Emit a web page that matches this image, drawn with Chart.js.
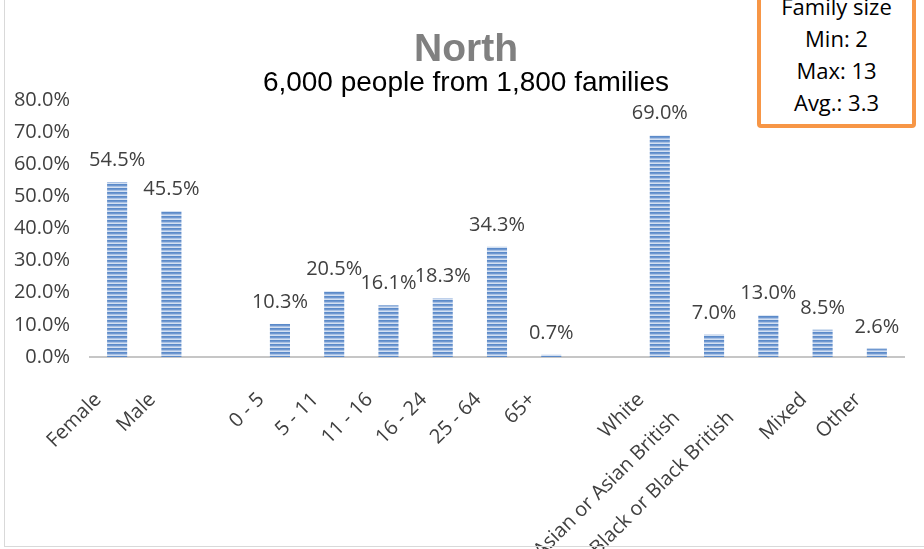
<!DOCTYPE html>
<html>
<head>
<meta charset="utf-8">
<script src="https://cdn.jsdelivr.net/npm/chart.js@4"></script>
<style>
  body { margin: 0; background: #fff; }
  #wrap { position: relative; width: 924px; height: 549px; overflow: hidden; }
  #frame {
    position: absolute; left: 4px; top: -2px; width: 940px; height: 549px;
    box-sizing: border-box; border: 1px solid #d9d9d9; pointer-events: none;
  }
  #note {
    position: absolute; left: 757px; top: -14px; width: 159px; height: 142px;
    box-sizing: border-box; border: 4px solid #f79646; border-radius: 4px;
    background: #fff; text-align: center; font-family: "Open Sans", sans-serif;
    font-size: 22px; line-height: 32px; color: #000;
  }
</style>
</head>
<body>
<div id="wrap">
  <canvas id="mychart" width="924" height="549"></canvas>
  <div id="frame"></div>
  <div id="note">Family size<br>Min: 2<br>Max: 13<br>Avg.: 3.3</div>
</div>
<script>
const categories = [
  "Female", "Male", "",
  "0 - 5", "5 - 11", "11 - 16", "16 - 24", "25 - 64", "65+", "",
  "White", "Asian or Asian British", "Black or Black British", "Mixed", "Other",
];
const shares = [
  54.5, 45.5, null,
  10.3, 20.5, 16.1, 18.3, 34.3, 0.7, null,
  69.0, 7.0, 13.0, 8.5, 2.6,
];
const yTicks = [0, 10, 20, 30, 40, 50, 60, 70, 80];

// horizontal stripe fill like the original
function stripes() {
  const c = document.createElement("canvas");
  c.width = 4;
  c.height = 4;
  const g = c.getContext("2d");
  const rows = ["#5b8ac9", "#6f98d0", "#a9c1e4", "#d3e0f2"];
  rows.forEach((col, i) => {
    g.fillStyle = col;
    g.fillRect(0, i, 4, 1);
  });
  return g.createPattern(c, "repeat");
}

const labelFont = { family: "'Open Sans', sans-serif", size: 20 };

const valueLabels = {
  id: "valueLabels",
  afterDatasetsDraw(chart) {
    const ctx = chart.ctx;
    const meta = chart.getDatasetMeta(0);
    ctx.save();
    ctx.font = "20px 'Open Sans', sans-serif";
    ctx.fillStyle = "#404040";
    ctx.textAlign = "center";
    ctx.textBaseline = "alphabetic";
    meta.data.forEach((bar, i) => {
      const v = shares[i];
      if (v === null) return;
      ctx.fillText(v.toFixed(1) + "%", bar.x, bar.y - 16);
    });
    ctx.restore();
  },
};

const chart = new Chart(document.getElementById("mychart").getContext("2d"), {
  type: "bar",
  data: {
    labels: categories,
    datasets: [
      {
        data: shares,
        backgroundColor: stripes(),
        borderWidth: 0,
        barPercentage: 0.37,
        categoryPercentage: 1,
      },
    ],
  },
  options: {
    responsive: false,
    animation: false,
    layout: { padding: { left: 12, right: 4, top: 0, bottom: 0 } },
    plugins: {
      legend: { display: false },
      tooltip: { enabled: false },
      title: {
        display: true,
        text: "North",
        color: "#808080",
        font: { family: "'Liberation Sans', Arial, sans-serif", size: 39, weight: "bold", lineHeight: 0.9 },
        padding: { top: 33, bottom: 1 },
      },
      subtitle: {
        display: true,
        text: "6,000 people from 1,800 families",
        color: "#000",
        font: { family: "'Liberation Sans', Arial, sans-serif", size: 28, lineHeight: 1 },
        padding: { top: 0, bottom: 3 },
      },
    },
    scales: {
      x: {
        grid: { display: false },
        border: { display: true, color: "#c6c6c6", width: 2 },
        ticks: {
          autoSkip: false,
          minRotation: 45,
          maxRotation: 45,
          color: "#404040",
          font: labelFont,
          padding: 23,
          labelOffset: -19,
          // the long ethnic group labels sit further down in the original
          callback: (v, i) => (categories[i].length > 12 ? categories[i] + "     " : categories[i]),
        },
        afterFit(scale) {
          scale.height = 192;
        },
      },
      y: {
        min: 0,
        max: 80,
        grid: { display: false, drawTicks: false },
        border: { display: false },
        afterBuildTicks(scale) {
          scale.ticks = yTicks.map((v) => ({ value: v }));
        },
        ticks: {
          color: "#404040",
          font: labelFont,
          padding: 20,
          callback: (v) => v.toFixed(1) + "%",
        },
        afterFit(scale) {
          scale.width = 78;
        },
      },
      // empty spacer on the right so the plot ends where the original does
      spacer: {
        position: "right",
        grid: { display: false },
        border: { display: false },
        ticks: { display: false },
        afterFit(scale) {
          scale.width = 16;
        },
      },
    },
  },
  plugins: [valueLabels],
});
</script>
</body>
</html>
